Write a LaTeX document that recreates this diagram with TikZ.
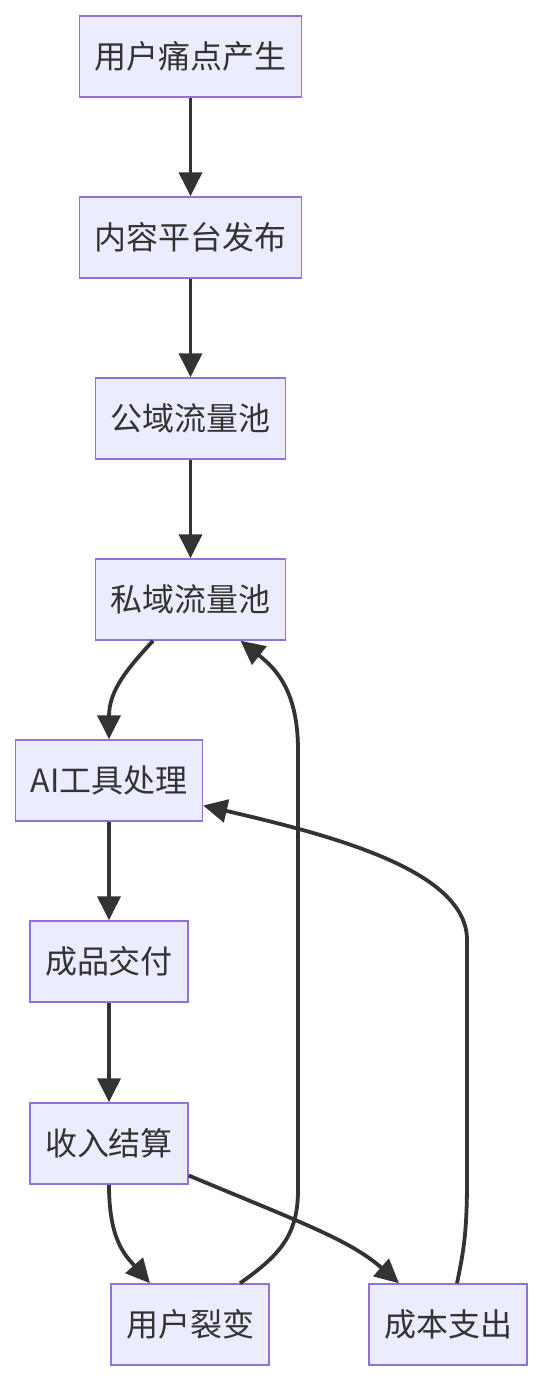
\documentclass[tikz,border=0pt]{standalone}
\usepackage{fontspec}
\setmainfont{Noto Sans CJK SC}
\usetikzlibrary{arrows.meta}
\definecolor{riempi}{HTML}{ECECFF}
\definecolor{bordo}{HTML}{9370DB}
\definecolor{linea}{HTML}{333333}
\tikzset{
  passo/.style={draw=bordo, line width=1.5pt, fill=riempi, text=linea,
    minimum height=81pt, inner xsep=15pt, inner ysep=0pt,
    font=\fontsize{32pt}{38pt}\selectfont},
  flusso/.style={->, draw=linea, line width=3.8pt}
}
\begin{document}
\begin{tikzpicture}[x=1pt, y=-1pt, >={Triangle[length=24pt, width=23pt]}]
\useasboundingbox (0,0) rectangle (544,1384);
% Nodi del percorso
\node[passo] (dolore)   at (190.5,56.5)  {用户痛点产生};
\node[passo] (contenuto) at (190.5,237.5) {内容平台发布};
\node[passo] (pubblico) at (190.5,418.5) {公域流量池};
\node[passo] (privato)  at (190.5,599.5) {私域流量池};
\node[passo] (ai)       at (109,780.5)   {AI工具处理};
\node[passo] (consegna) at (109,961.5)   {成品交付};
\node[passo] (incasso)  at (109,1143.5)  {收入结算};
\node[passo] (fissione) at (190,1324.5)  {用户裂变};
\node[passo] (costi)    at (448,1324.5)  {成本支出};

% Frecce dritte
\draw[flusso] (dolore) -- (contenuto);
\draw[flusso] (contenuto) -- (pubblico);
\draw[flusso] (pubblico) -- (privato);
\draw[flusso] (ai) -- (consegna);
\draw[flusso] (consegna) -- (incasso);

% Frecce curve
\draw[flusso] ([xshift=-37.5pt]privato.south) .. controls (128,668) and (109,690) .. (ai.north);
\draw[flusso] (incasso.south) .. controls (109,1240) and (125,1255) .. ([xshift=-40pt]fissione.north);
\draw[flusso] ([yshift=-32pt]incasso.east) .. controls (300,1222) and (350,1240) .. ([xshift=-49pt]costi.north);
% ritorno del ciclo
\draw[flusso] ([xshift=50pt]fissione.north) .. controls (280,1255) and (298,1235) .. (298,1190)
  -- (298,750) .. controls (298,690) and (275,668) .. ([xshift=50pt]privato.south);
\draw[flusso] ([xshift=9pt]costi.north) .. controls (464,1250) and (467,1230) .. (467,1180)
  -- (467,940) .. controls (467,870) and (330,835) .. ([yshift=-25pt]ai.east);
\end{tikzpicture}
\end{document}
